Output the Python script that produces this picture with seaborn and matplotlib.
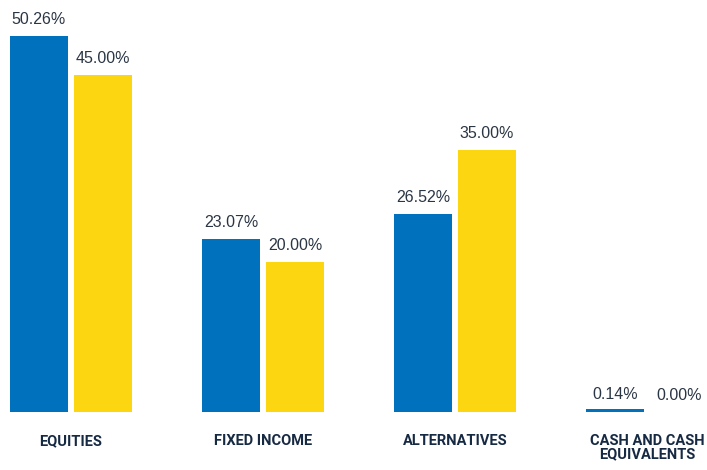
import seaborn as sns
import matplotlib.pyplot as plt
import pandas as pd

# data
categories = ["EQUITIES", "FIXED INCOME", "ALTERNATIVES", "CASH AND CASH\nEQUIVALENTS"]
series_names = ["Actual", "Target"]
actual = [50.26, 23.07, 26.52, 0.14]
target = [45.00, 20.00, 35.00, 0.00]

colors = ["#0071bc", "#fcd611"]

df = pd.DataFrame({
    "category": categories * 2,
    "series": [series_names[0]] * 4 + [series_names[1]] * 4,
    "value": actual + target,
})

sns.set_style("white")

fig = plt.figure(figsize=(7.07, 4.70), dpi=100)
ax = fig.add_axes([0, 58 / 470, 1, 412 / 470])

sns.barplot(
    data=df,
    x="category",
    y="value",
    hue="series",
    palette=colors,
    saturation=1,
    width=0.667,
    gap=0.08,
    legend=False,
    ax=ax,
    edgecolor="none",
)

# value labels
for cont in ax.containers:
    for bar in cont:
        h = bar.get_height()
        ax.text(
            bar.get_x() + bar.get_width() / 2,
            h + 1.2,
            f"{h:.2f}%",
            ha="center",
            va="bottom",
            fontsize=11.5,
            color="#2b3645",
            family=["Liberation Sans", "DejaVu Sans"],
        )
    # make tiny bars visible
    for bar in cont:
        if 0 < bar.get_height() < 0.5:
            bar.set_height(0.35)

ax.set_xlim(-71 / 192, (707 - 71) / 192)
ax.set_ylim(0, 412 / 7.48)
ax.set_xlabel("")
ax.set_ylabel("")
ax.set_yticks([])
ax.tick_params(axis="x", length=0, pad=16)
for lbl in ax.get_xticklabels():
    lbl.set_fontfamily(["Roboto", "DejaVu Sans"])
    lbl.set_fontweight("bold")
    lbl.set_fontsize(10.5)
    lbl.set_color("#172a44")
    lbl.set_verticalalignment("top")
    lbl.set_linespacing(0.95)
for s in ax.spines.values():
    s.set_visible(False)

fig.savefig("out.png", dpi=100)
